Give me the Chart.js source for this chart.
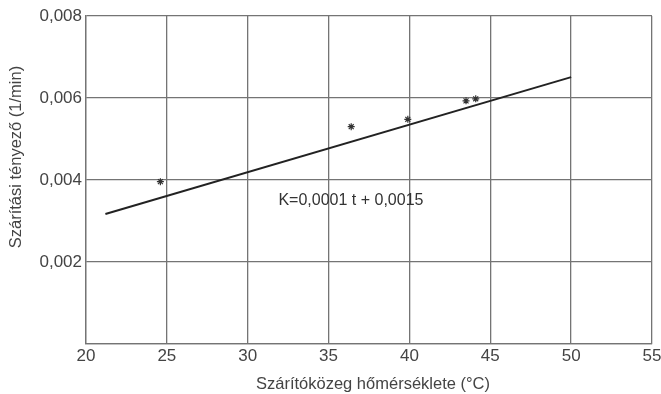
<!DOCTYPE html>
<html>
<head>
<meta charset="utf-8">
<script src="https://cdn.jsdelivr.net/npm/chart.js@4/dist/chart.umd.min.js"></script>
<style>
  html, body { margin: 0; padding: 0; background: #fff; }
  #grafikon { display: block; }
</style>
</head>
<body>
<canvas id="grafikon" width="661" height="394"></canvas>
<script>
// mért pontok: szárítóközeg hőmérséklete (°C) és szárítási tényező (1/min)
const homerseklet = [24.6, 36.4, 39.9, 43.5, 44.1];
const tenyezo = [0.00396, 0.0053, 0.00548, 0.00593, 0.00598];

// illesztett egyenes két végpontja
const egyenesX = [21.2, 50];
const egyenesY = [0.00317, 0.00651];

const xTickek = [20, 25, 30, 35, 40, 45, 50, 55];
const yTickek = [0.002, 0.004, 0.006, 0.008];
const egyenlet = 'K=0,0001 t + 0,0015';
const egyenletPoz = [31.9, 0.0035];
const xCim = 'Szárítóközeg hőmérséklete (°C)';
const yCim = 'Szárítási tényező (1/min)';

const racsSzin = '#747474';
const betu = 'Liberation Sans, Arial, sans-serif';

// egyenlet és tengelycímek kirajzolása
const feliratPlugin = {
  id: 'feliratok',
  afterDatasetsDraw(chart) {
    const { ctx, scales, chartArea } = chart;
    ctx.save();
    ctx.font = '16px ' + betu;
    ctx.fillStyle = '#333';
    ctx.textAlign = 'left';
    ctx.textBaseline = 'middle';
    ctx.fillText(egyenlet, scales.x.getPixelForValue(egyenletPoz[0]), scales.y.getPixelForValue(egyenletPoz[1]));

    ctx.font = '16.5px ' + betu;
    ctx.fillStyle = '#444';
    ctx.textAlign = 'center';
    ctx.fillText(xCim, (chartArea.left + chartArea.right) / 2 + 4, chart.height - 10);

    ctx.translate(16, chartArea.top + (chartArea.bottom - chartArea.top) * 0.43);
    ctx.rotate(-Math.PI / 2);
    ctx.fillText(yCim, 0, 0);
    ctx.restore();
  }
};

const ctx = document.getElementById('grafikon');
new Chart(ctx, {
  type: 'scatter',
  data: {
    datasets: [
      {
        label: 'mért',
        data: homerseklet.map((t, i) => ({ x: t, y: tenyezo[i] })),
        pointStyle: 'star',
        pointRadius: 3.5,
        borderColor: '#333',
        backgroundColor: '#333',
        borderWidth: 1.2
      },
      {
        label: 'illesztés',
        type: 'line',
        data: egyenesX.map((t, i) => ({ x: t, y: egyenesY[i] })),
        borderColor: '#222',
        borderWidth: 2,
        pointRadius: 0,
        fill: false
      }
    ]
  },
  options: {
    responsive: false,
    animation: false,
    layout: { padding: { left: 0, right: 9, top: 16, bottom: 0 } },
    plugins: {
      legend: { display: false },
      tooltip: { enabled: false }
    },
    scales: {
      x: {
        type: 'linear',
        min: 20,
        max: 55,
        afterBuildTicks: (s) => { s.ticks = xTickek.map(v => ({ value: v })); },
        afterFit: (s) => { s.height = 50; s.paddingLeft = 0; s.paddingRight = 0; },
        ticks: { color: '#444', font: { size: 17, family: betu }, padding: 2 },
        grid: { color: racsSzin, lineWidth: 1.3, drawTicks: false },
        border: { color: racsSzin, width: 1.3 }
      },
      y: {
        type: 'linear',
        min: 0,
        max: 0.008,
        afterBuildTicks: (s) => { s.ticks = [0].concat(yTickek).map(v => ({ value: v })); },
        afterFit: (s) => { s.width = 86; s.paddingTop = 0; s.paddingBottom = 0; },
        ticks: {
          color: '#444',
          font: { size: 17, family: betu },
          padding: 4,
          callback: (v) => v === 0 ? '' : v.toFixed(3).replace('.', ',')
        },
        grid: { color: racsSzin, lineWidth: 1.3, drawTicks: false },
        border: { color: racsSzin, width: 1.3 }
      }
    }
  },
  plugins: [feliratPlugin]
});
</script>
</body>
</html>
